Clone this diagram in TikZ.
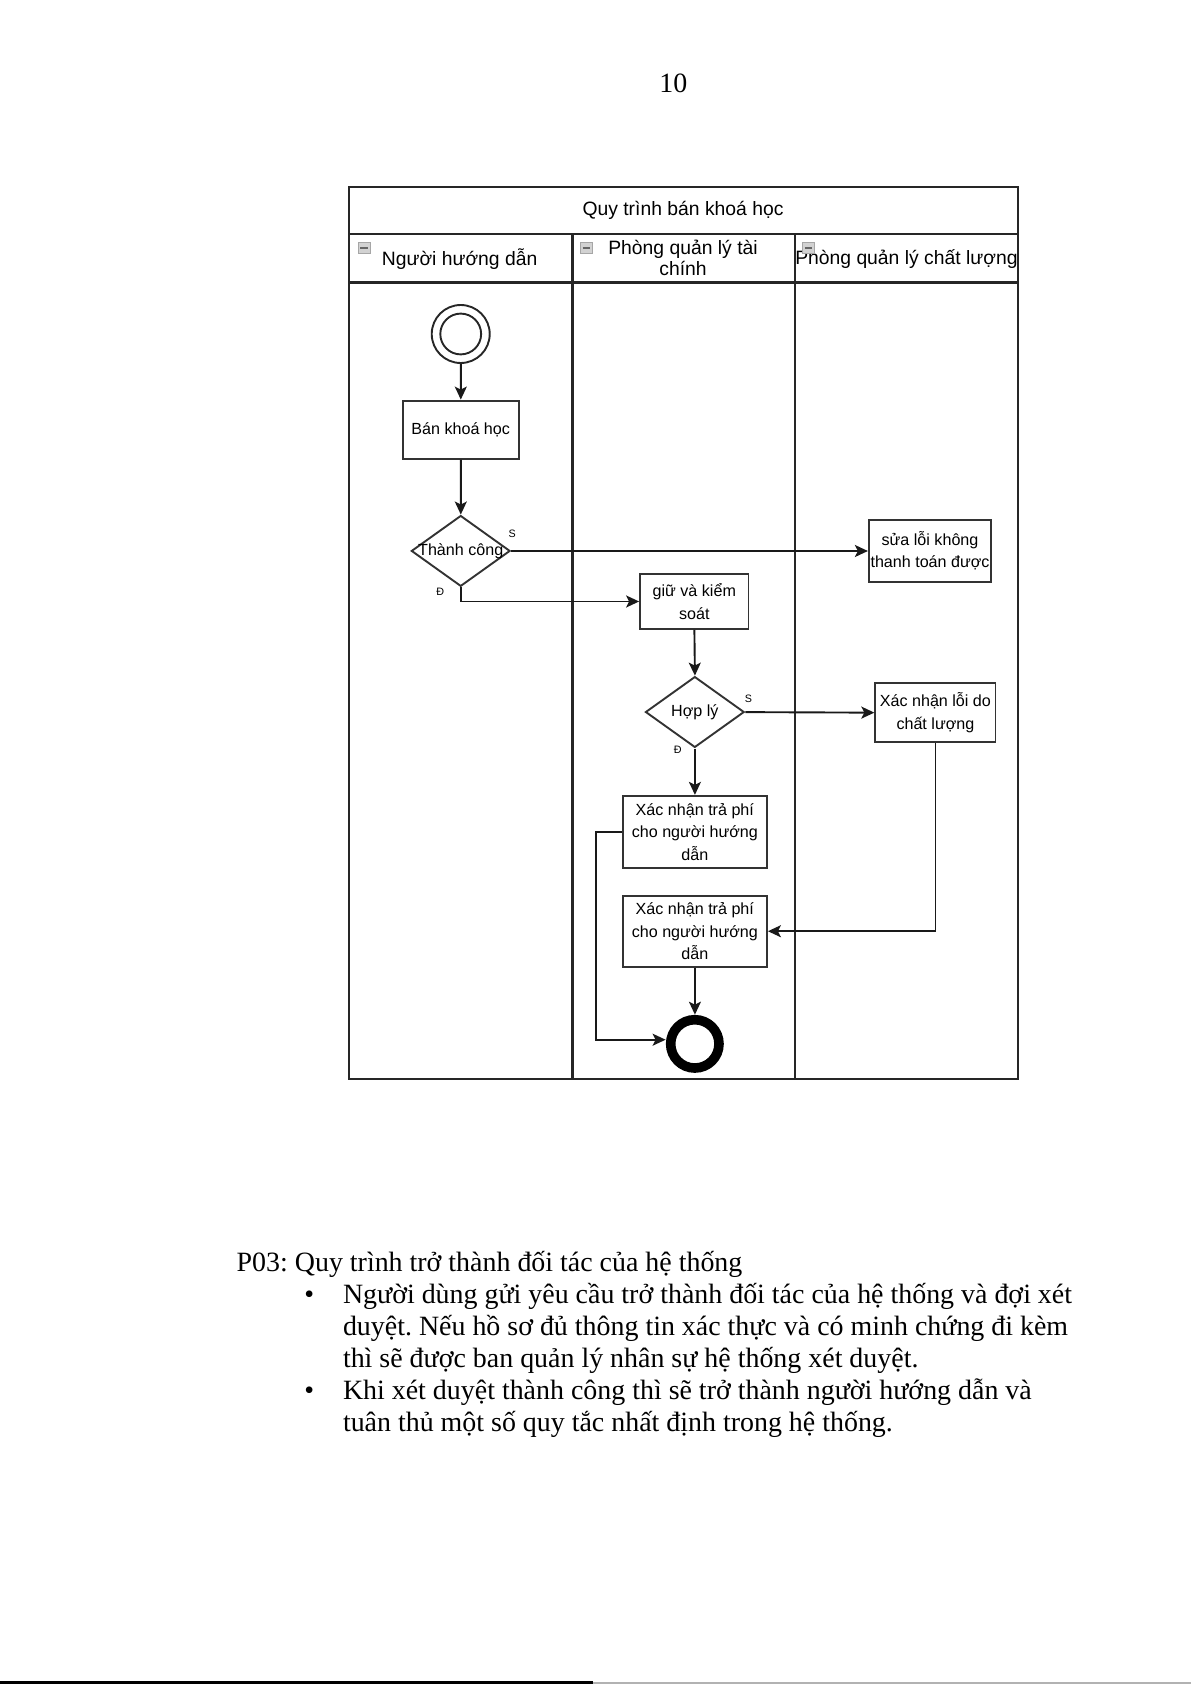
\documentclass[tikz,border=0pt]{standalone}
\usepackage{fontspec}
\setmainfont{Liberation Serif}
\newfontfamily\arial{Liberation Sans}
\usetikzlibrary{shapes.geometric,arrows.meta}
\begin{document}
\begin{tikzpicture}[x=0.5pt,y=-0.5pt,scale=1.074,every node/.append style={transform shape},
  pool/.style={line width=1.15pt, draw=black!85},
  hdr/.style={font=\arial\fontsize{9}{10}\selectfont, inner sep=0pt, align=center},
  box/.style={draw=black!80, line width=0.95pt, font=\arial\fontsize{7.5}{10.5}\selectfont, align=center, inner sep=0pt},
  dia/.style={diamond, draw=black!80, line width=0.95pt, minimum width=46pt, minimum height=33pt, inner sep=0pt},
  dtext/.style={font=\arial\fontsize{7.5}{10.5}\selectfont, inner sep=0pt},
  arr/.style={-{Stealth[length=6.5pt,width=6pt,inset=1.5pt]}, line width=0.95pt, draw=black!90},
  lbl/.style={font=\arial\fontsize{5}{6}\selectfont, inner sep=0pt},
  icon/.style={rectangle, minimum width=5.5pt, minimum height=5pt, fill=gray!35, draw=gray!70, line width=0.3pt, inner sep=0pt,
    path picture={\draw[black!60,line width=0.6pt] ([xshift=1pt]path picture bounding box.west) -- ([xshift=-1pt]path picture bounding box.east);}},
  body/.style={font=\fontsize{13}{15}\selectfont\frenchspacing, inner sep=0pt, anchor=base west}
]
\useasboundingbox (0,0) rectangle (1109,1569);

% page number
\node[font=\fontsize{13}{15}\selectfont, inner sep=0pt, anchor=base] (pnum) at (627,86) {10};

% pool
\draw[pool] (325,174) rectangle (948,1005);
\draw[pool] (325,218) -- (948,218);
\draw[pool] (325,263) -- (948,263);
\draw[pool] (533,218) -- (533,1005);
\draw[pool] (740,218) -- (740,1005);
\node[hdr] (title) at (636,196) {Quy trình bán khoá học};
\node[hdr] (h1) at (428,241) {Người hướng dẫn};
\node[hdr] (h2) at (636,240) {Phòng quản lý tài\\chính};
\node[hdr] (h3) at (844,241) {Phòng quản lý chất lượng};
\node[icon] (i1) at (339,231) {};
\node[icon] (i2) at (546,231) {};
\node[icon] (i3) at (753,231) {};

% nodes
\node[circle, draw=black!85, line width=0.95pt, minimum size=27pt, inner sep=0pt] (start) at (429,311) {};
\node[circle, draw=black!85, line width=0.95pt, minimum size=19pt, inner sep=0pt] (starti) at (429,311) {};
\node[box, minimum width=54pt, minimum height=27pt] (ban) at (429,400) {Bán khoá học};
\node[dia] (d1) at (429,513) {};
\node[dtext] (d1t) at (429,513) {Thành công};
\node[box, minimum width=57pt, minimum height=29pt] (sua) at (866,513) {sửa lỗi không\\thanh toán được};
\node[box, minimum width=50.5pt, minimum height=25.5pt] (giu) at (646.5,560) {giữ và kiểm\\soát};
\node[dia] (d2) at (647,663) {};
\node[dtext] (d2t) at (647,663) {Hợp lý};
\node[box, minimum width=56pt, minimum height=27.5pt] (xnl) at (871,663.5) {Xác nhận lỗi do\\chất lượng};
\node[box, minimum width=67pt, minimum height=33.5pt] (tra1) at (647,774.5) {Xác nhận trả phí\\cho người hướng\\dẫn};
\node[box, minimum width=67pt, minimum height=33pt] (tra2) at (647,867) {Xác nhận trả phí\\cho người hướng\\dẫn};
\node[circle, draw=black, line width=4.8pt, minimum size=22.5pt, inner sep=0pt] (end) at (647,972) {};

% labels
\node[lbl] (s1) at (477,497) {S};
\node[lbl] (e1) at (410,551) {Đ};
\node[lbl] (s2) at (697,651) {S};
\node[lbl] (e2) at (631,698) {Đ};

% connectors
\draw[arr] (start) -- (ban);
\draw[arr] (ban) -- (d1);
\draw[arr] (d1.east) -- (sua.west);
\draw[arr] (d1.south) |- (giu.west);
\draw[arr] (giu.south) -- (d2.north);
\draw[arr] (d2.east) -- (xnl.west);
\draw[arr] (d2.south) -- (tra1.north);
\draw[arr] (xnl.south) |- (tra2.east);
\draw[arr] (tra2.south) -- (end.north);
\coordinate (c1) at (555,774.5);
\coordinate (c2) at (555,968);
\draw[arr] (tra1.west) -- (c1) -- (c2) -- (c2 -| end.west);

% body text
\node[body] (p03) at (220,1184) {P03: Quy trình trở thành đối tác của hệ thống};
\node[body, anchor=base] (b1) at (288,1214) {•};
\node[body] (l1) at (319,1214) {Người dùng gửi yêu cầu trở thành đối tác của hệ thống và đợi xét};
\node[body] (l2) at (319,1244) {duyệt. Nếu hồ sơ đủ thông tin xác thực và có minh chứng đi kèm};
\node[body] (l3) at (319,1273) {thì sẽ được ban quản lý nhân sự hệ thống xét duyệt.};
\node[body, anchor=base] (b2) at (288,1303) {•};
\node[body] (l4) at (319,1303) {Khi xét duyệt thành công thì sẽ trở thành người hướng dẫn và};
\node[body] (l5) at (319,1333) {tuân thủ một số quy tắc nhất định trong hệ thống.};

% bottom edge artifact
\draw[line width=1.6pt, black] (0,1567) -- (552,1567);
\draw[line width=1pt, gray!60] (552,1567) -- (1109,1567);
\end{tikzpicture}
\end{document}
